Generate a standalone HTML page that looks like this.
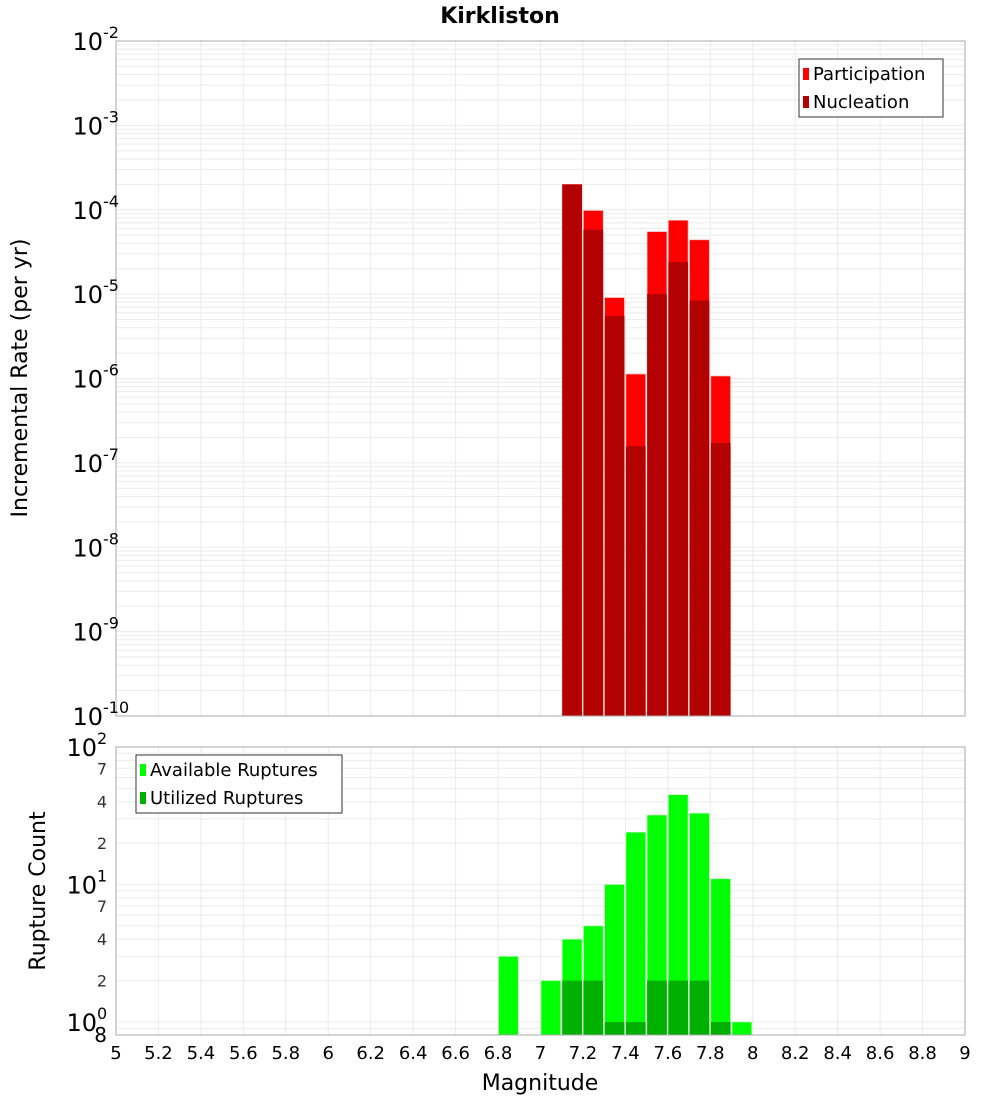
<!DOCTYPE html>
<html><head><meta charset="utf-8"><style>
body{margin:0;background:#fff;font-family:"DejaVu Sans","Liberation Sans",sans-serif}
svg text{font-family:"DejaVu Sans","Liberation Sans",sans-serif}
</style></head><body>
<svg id="c" width="1000" height="1100">
<text x="500" y="23" text-anchor="middle" font-size="22" font-weight="bold">Kirkliston</text>
<text transform="translate(27,378) rotate(-90)" text-anchor="middle" font-size="22">Incremental Rate (per yr)</text>
<text transform="translate(45,891) rotate(-90)" text-anchor="middle" font-size="22">Rupture Count</text>
<text x="540" y="1090" text-anchor="middle" font-size="22">Magnitude</text>
<g id="topPlot"></g>
<g id="botPlot"></g>
<g id="xt"></g>
</svg>
<script>
const binCenters=[7.15,7.25,7.35,7.45,7.55,7.65,7.75,7.85];
const participation=[2.0e-4,9.8e-5,9.1e-6,1.13e-6,5.5e-5,7.5e-5,4.4e-5,1.07e-6];
const nucleation=[2.0e-4,5.8e-5,5.5e-6,1.58e-7,1.0e-5,2.4e-5,8.4e-6,1.72e-7];
const countCenters=[6.85,7.05,7.15,7.25,7.35,7.45,7.55,7.65,7.75,7.85,7.95];
const available=[3,2,4,5,10,24,32,45,33,11,1];
const utilized=[0,0,2,2,1,1,2,2,2,1,0];
const xTicks=[5,5.2,5.4,5.6,5.8,6,6.2,6.4,6.6,6.8,7,7.2,7.4,7.6,7.8,8,8.2,8.4,8.6,8.8,9];
const topDecades=[-2,-3,-4,-5,-6,-7,-8,-9,-10];
const botMinor=[2,4,7,20,40,70];

const NS="http://www.w3.org/2000/svg";
const X0=116,X1=965;
const xs=m=>X0+(m-5)/4*(X1-X0);
const T0=41,T1=716;
const yt=v=>T0+(-2-Math.log10(v))/8*(T1-T0);
const B0=747,B1=1035;
const yb=v=>1022-Math.log10(v)*137.5;
function el(p,tag,a,txt){const e=document.createElementNS(NS,tag);for(const k in a)e.setAttribute(k,a[k]);if(txt!==undefined)e.textContent=txt;p.appendChild(e);return e;}
const gTop=document.getElementById('topPlot'),gBot=document.getElementById('botPlot'),gXt=document.getElementById('xt');

[[gTop,T0,T1],[gBot,B0,B1]].forEach(([g,a,b])=>{
  xTicks.forEach(m=>{const l=el(g,'line',{x1:xs(m),x2:xs(m),y1:a,y2:b,stroke:'#ebebeb'});
  
  });
});
for(let d=-10;d<-2;d++)for(let k=1;k<10;k++){const y=yt(k*Math.pow(10,d));
  const l=el(gTop,'line',{x1:X0,x2:X1,y1:y,y2:y,stroke:'#ebebeb'});
  
  }
for(let d=-1;d<2;d++)for(let k=1;k<10;k++){const v=k*Math.pow(10,d);const y=yb(v);if(y>B1||y<B0)continue;
  const l=el(gBot,'line',{x1:X0,x2:X1,y1:y,y2:y,stroke:'#ebebeb'});
  
  }

const bw=0.1;
binCenters.forEach((m,i)=>{
  const x=xs(m-bw/2)+0.5,w=xs(m+bw/2)-xs(m-bw/2)-1.5;
  let r=el(gTop,'rect',{x:x,y:yt(participation[i]),width:w,height:T1-yt(participation[i]),fill:'#ff0000',stroke:'#ffb0b0','stroke-width':0.7});
  
  
  r=el(gTop,'rect',{x:x,y:yt(nucleation[i]),width:w,height:T1-yt(nucleation[i]),fill:'#b30000'});
  
  
});
countCenters.forEach((m,i)=>{
  const x=xs(m-bw/2)+0.5,w=xs(m+bw/2)-xs(m-bw/2)-1.5;
  let r=el(gBot,'rect',{x:x,y:yb(available[i]),width:w,height:B1-yb(available[i]),fill:'#00ff00',stroke:'#b0ffb0','stroke-width':0.7});
  
  
  if(utilized[i]>0){r=el(gBot,'rect',{x:x,y:yb(utilized[i]),width:w,height:B1-yb(utilized[i]),fill:'#00b000'});
  
  }
});
let f=el(gTop,'rect',{x:X0,y:T0,width:X1-X0,height:T1-T0,fill:'none',stroke:'#aaa'});


f=el(gBot,'rect',{x:X0,y:B0,width:X1-X0,height:B1-B0,fill:'none',stroke:'#aaa'});



topDecades.forEach(d=>{const y=yt(Math.pow(10,d));
  const t=el(gTop,'text',{x:103,y:y+9,'text-anchor':'end','font-size':24},'10');
  
  
  const s=el(gTop,'text',{x:103,y:y-3,'font-size':16},String(d));
  
  
});
[0,1,2].forEach(d=>{const y=yb(Math.pow(10,d));
  const t=el(gBot,'text',{x:97,y:y+9,'text-anchor':'end','font-size':24},'10');
  
  
  const s=el(gBot,'text',{x:97,y:y-3,'font-size':16},String(d));
  
  
});
botMinor.forEach(v=>{const t=el(gBot,'text',{x:107,y:yb(v)+6,'text-anchor':'end','font-size':16,fill:'#333'},String(v).charAt(0));
  
  });
const e8=el(gBot,'text',{x:107,y:1042,'text-anchor':'end','font-size':20},'8');


xTicks.forEach(m=>{const t=el(gXt,'text',{x:xs(m),y:1059,'text-anchor':'middle','font-size':18},String(m));
  
  });

function legend(g,x,y,w,items,name){
  const lg=el(g,'g',{});
  
  
  el(lg,'rect',{x:x,y:y,width:w,height:58,fill:'#fff',stroke:'#333'});
  items.forEach((it,i)=>{
    el(lg,'rect',{x:x+4,y:y+9+i*28,width:6,height:12,fill:it[1]});
    const t=el(lg,'text',{x:x+14,y:y+21+i*28,'font-size':18},it[0]);
    
    
  });
}
legend(gTop,799,59,144,[['Participation','#ff0000'],['Nucleation','#b30000']],'top-legend');
legend(gBot,136,755,206,[['Available Ruptures','#00ff00'],['Utilized Ruptures','#00b000']],'bottom-legend');
</script>
</body></html>
